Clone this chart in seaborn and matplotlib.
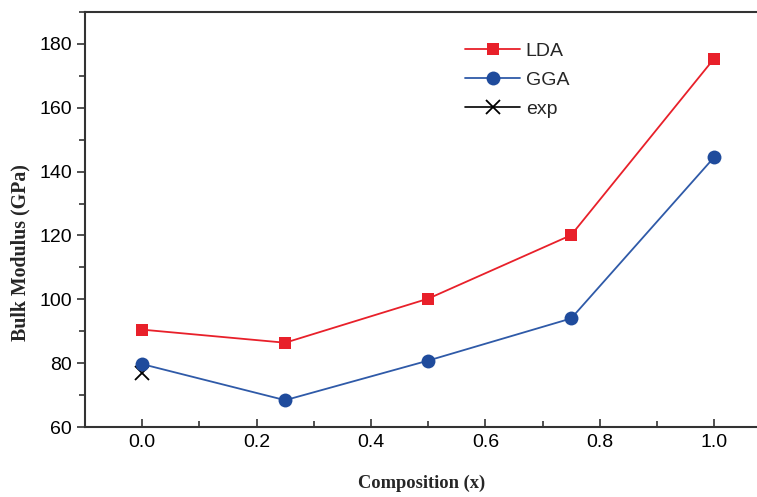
import matplotlib
matplotlib.use("Agg")
import matplotlib.pyplot as plt
import seaborn as sns
import pandas as pd
from matplotlib.ticker import MultipleLocator

composition = [0.0, 0.25, 0.5, 0.75, 1.0]
lda = [90.5, 86.4, 100.2, 120.1, 175.4]
gga = [79.7, 68.4, 80.8, 94.0, 144.5]
exp_x = [0.0]
exp_y = [76.8]

sns.set_theme(style="ticks")
plt.rcParams['font.family'] = ['Liberation Sans', 'DejaVu Sans']

fig = plt.figure(figsize=(7.57, 4.97), dpi=100)
ax = fig.add_axes([85/757, 70/497, (757-85)/757, (427-12)/497])

df_lda = pd.DataFrame({"x": composition, "y": lda})
df_gga = pd.DataFrame({"x": composition, "y": gga})
df_exp = pd.DataFrame({"x": exp_x, "y": exp_y})

sns.lineplot(data=df_lda, x="x", y="y", ax=ax, color="#e8202a", lw=1.3,
             marker="s", markersize=9, markeredgewidth=0, label="LDA", zorder=3)
sns.lineplot(data=df_gga, x="x", y="y", ax=ax, color="#2f5aa8", lw=1.3,
             marker="o", markersize=10, markerfacecolor="#1f4b9c",
             markeredgewidth=0, label="GGA", zorder=3)
sns.lineplot(data=df_exp, x="x", y="y", ax=ax, color="black", lw=1.2,
             marker="x", markersize=10, markeredgewidth=1.3,
             markeredgecolor="black", markerfacecolor="black", label="exp",
             zorder=2)

ax.set_xlim(-0.1, 1.075)
ax.set_ylim(60, 190)
ax.xaxis.set_major_locator(MultipleLocator(0.2))
ax.xaxis.set_minor_locator(MultipleLocator(0.1))
ax.yaxis.set_major_locator(MultipleLocator(20))
ax.yaxis.set_minor_locator(MultipleLocator(10))
ax.set_xticks([0.0, 0.2, 0.4, 0.6, 0.8, 1.0])
ax.set_xticklabels(["0.0", "0.2", "0.4", "0.6", "0.8", "1.0"])
ax.set_yticks([60, 80, 100, 120, 140, 160, 180])

ax.tick_params(axis="x", which="major", direction="in", length=6, width=1.2,
               labelsize=14, pad=5, colors="#333333", labelcolor="black")
ax.tick_params(axis="x", which="minor", direction="in", length=4, width=1.2,
               colors="#333333")
ax.tick_params(axis="y", which="major", direction="out", length=6, width=1.2,
               labelsize=14, colors="#333333", labelcolor="black")
ax.tick_params(axis="y", which="minor", direction="out", length=4, width=1.2,
               colors="#333333")

for s in ["left", "bottom", "top"]:
    ax.spines[s].set_linewidth(1.5)
    ax.spines[s].set_color("#333333")
ax.spines["right"].set_visible(False)

ax.set_xlabel("Composition (x)", fontsize=13.3, fontweight="bold",
              family=["Liberation Serif", "DejaVu Serif"])
ax.set_ylabel("Bulk Modulus (GPa)", fontsize=14.3, fontweight="bold",
              family=["Liberation Serif", "DejaVu Serif"])
ax.xaxis.set_label_coords((422 - 85) / 672, -(483 - 427) / 415)
ax.yaxis.set_label_coords((20 - 85) / 672, (427 - 253) / 415)
ax.xaxis.label.set_va("center")
ax.yaxis.label.set_va("center")

leg = ax.legend(loc="upper left", bbox_to_anchor=(0.54, 0.97), frameon=False,
                fontsize=14, handlelength=2.8, labelspacing=0.6,
                handletextpad=0.3)

fig.savefig("out.png", dpi=100)
